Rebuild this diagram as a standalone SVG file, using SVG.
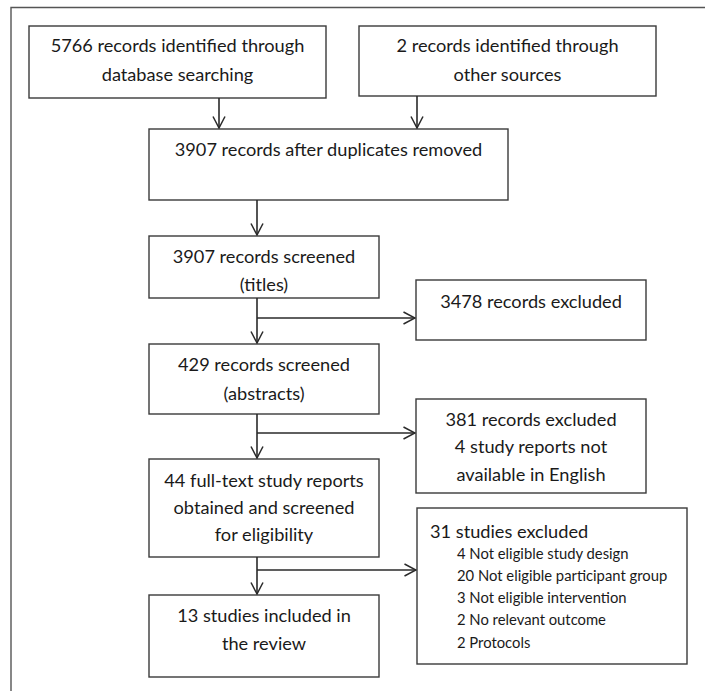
<svg xmlns="http://www.w3.org/2000/svg" width="705" height="691" viewBox="0 0 705 691">
<style>
  .box { fill: #ffffff; stroke: #3a3a3a; stroke-width: 1.4; }
  .t { font-family: Lato, "Open Sans", sans-serif; font-size: 18.2px; fill: #1a1a1a; text-anchor: middle; }
  .tl { font-family: Lato, "Open Sans", sans-serif; font-size: 18.2px; fill: #1a1a1a; }
  .ts { font-family: Lato, "Open Sans", sans-serif; font-size: 14.8px; fill: #1a1a1a; }
  .edge { fill: none; stroke: #2a2a2a; stroke-width: 1.6; }
  .frame { fill: none; stroke: #555555; stroke-width: 1.4; }
</style>
<defs>
  <marker id="arr" markerUnits="userSpaceOnUse" viewBox="0 0 13 14" markerWidth="13" markerHeight="14" refX="12.5" refY="7" orient="auto">
    <path d="M1,1 L12.5,7 L1,13" fill="none" stroke="#2a2a2a" stroke-width="1.5"/>
  </marker>
</defs>
<rect width="705" height="691" fill="#ffffff"/>
<path class="frame" d="M11,691 L11,7.5 L705,7.5"/>

<g id="n1"><rect class="box" x="29" y="26" width="297" height="72"/>
  <text class="t" x="177.5" y="51.5">5766 records identified through</text>
  <text class="t" x="177.5" y="80.5">database searching</text></g>
<g id="n2"><rect class="box" x="359" y="26" width="297" height="70"/>
  <text class="t" x="507.5" y="51.5">2 records identified through</text>
  <text class="t" x="507.5" y="80.5">other sources</text></g>
<g id="n3"><rect class="box" x="149" y="129" width="359" height="71"/>
  <text class="t" x="328.5" y="155.5">3907 records after duplicates removed</text></g>
<g id="n4"><rect class="box" x="149" y="236" width="230" height="62"/>
  <text class="t" x="264" y="262.5">3907 records screened</text>
  <text class="t" x="264" y="290.5">(titles)</text></g>
<g id="n5"><rect class="box" x="416" y="280" width="230" height="60"/>
  <text class="t" x="531" y="307.5">3478 records excluded</text></g>
<g id="n6"><rect class="box" x="149" y="344" width="230" height="70"/>
  <text class="t" x="264" y="370.5">429 records screened</text>
  <text class="t" x="264" y="399.5">(abstracts)</text></g>
<g id="n7"><rect class="box" x="416" y="399" width="230" height="94"/>
  <text class="t" x="531" y="426">381 records excluded</text>
  <text class="t" x="531" y="453">4 study reports not</text>
  <text class="t" x="531" y="481">available in English</text></g>
<g id="n8"><rect class="box" x="149" y="459" width="230" height="98"/>
  <text class="t" x="264" y="486.5">44 full-text study reports</text>
  <text class="t" x="264" y="513.5">obtained and screened</text>
  <text class="t" x="264" y="540.5">for eligibility</text></g>
<g id="n9"><rect class="box" x="417" y="508" width="270" height="156"/>
  <text class="tl" x="430" y="537.5">31 studies excluded</text>
  <text class="ts" x="457" y="558.5">4 Not eligible study design</text>
  <text class="ts" x="457" y="580.5">20 Not eligible participant group</text>
  <text class="ts" x="457" y="602.5">3 Not eligible intervention</text>
  <text class="ts" x="457" y="624.5">2 No relevant outcome</text>
  <text class="ts" x="457" y="647.5">2 Protocols</text></g>
<g id="n10"><rect class="box" x="149" y="595" width="230" height="82"/>
  <text class="t" x="264" y="621.5">13 studies included in</text>
  <text class="t" x="264" y="649.5">the review</text></g>

<g id="edges">
  <path class="edge" d="M219,98 L219,128" marker-end="url(#arr)"/>
  <path class="edge" d="M417,96 L417,128" marker-end="url(#arr)"/>
  <path class="edge" d="M257,200 L257,235" marker-end="url(#arr)"/>
  <path class="edge" d="M257,298 L257,343" marker-end="url(#arr)"/>
  <path class="edge" d="M257,318 L415,318" marker-end="url(#arr)"/>
  <path class="edge" d="M257,414 L257,458" marker-end="url(#arr)"/>
  <path class="edge" d="M257,433 L415,433" marker-end="url(#arr)"/>
  <path class="edge" d="M257,557 L257,594" marker-end="url(#arr)"/>
  <path class="edge" d="M257,570 L416,570" marker-end="url(#arr)"/>
</g>
</svg>
